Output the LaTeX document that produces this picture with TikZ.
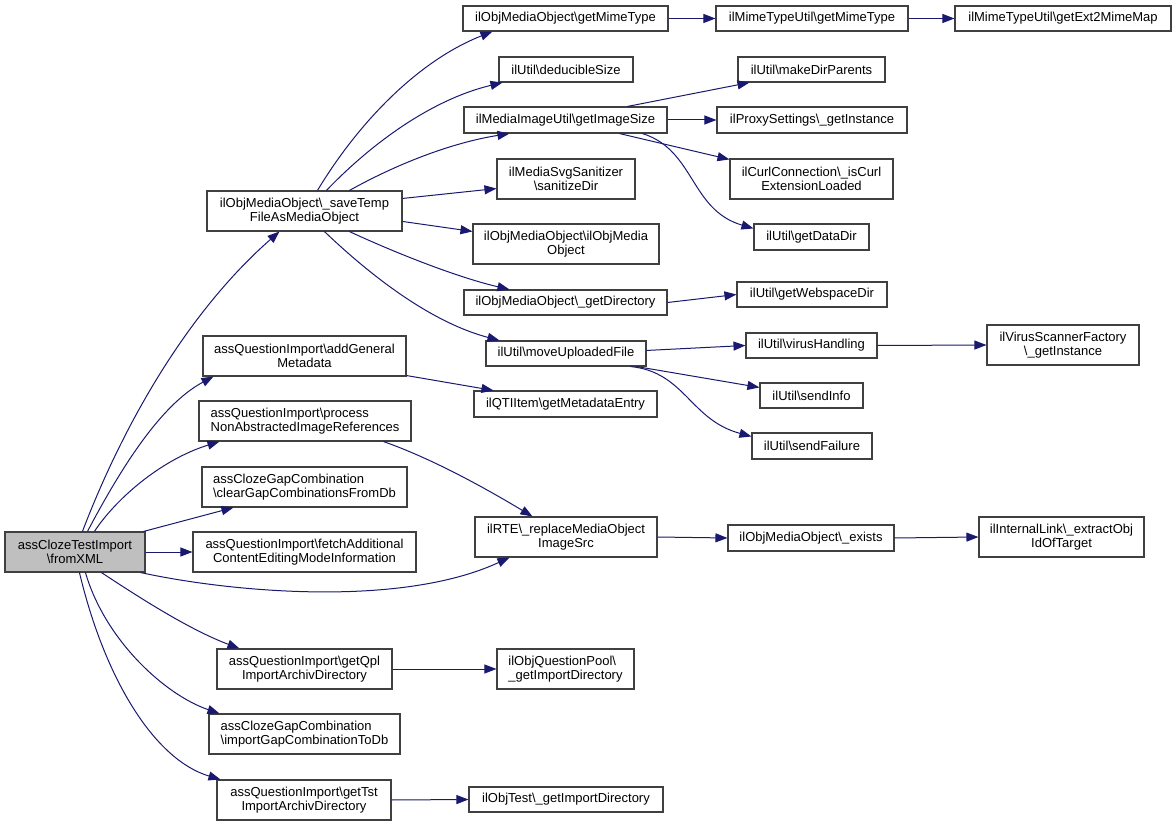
\documentclass[tikz,border=0pt]{standalone}
\usepackage{fontspec}
\setmainfont{Liberation Sans}
\usetikzlibrary{arrows.meta,calc}
\definecolor{edgeblue}{HTML}{191970}
\definecolor{boxgray}{HTML}{404040}
\definecolor{rootfill}{HTML}{BFBFBF}
\newcommand\bs{\textbackslash}
\newcommand\mkbox[7][]{\node[fnbox,#1,minimum width={(#5-#3)*1pt},minimum height={(#6-#4)*1pt}] (#2) at ({(#3+#5)/2},{(#4+#6)/2}) {#7};}
\begin{document}
\begin{tikzpicture}[x=1pt,y=-1pt,
  fnbox/.style={draw=boxgray, line width=1.1pt, fill=white, inner sep=0pt, align=center, font=\fontsize{13}{14.5}\selectfont},
  leftbox/.style={align=left},
  rootbox/.style={fill=rootfill},
  call/.style={draw=edgeblue, line width=1pt, -{Triangle[length=12pt,width=9pt]}}]
\fill[white] (0,0) rectangle (1176,826);
\useasboundingbox (0,0) rectangle (1176,826);
% column 1
\mkbox[rootbox]{root}{5}{532}{145}{572}{assClozeTestImport\\\bs fromXML}
% column 2
\mkbox{saveTemp}{207}{191}{402}{231}{ilObjMediaObject\bs\_saveTemp\\FileAsMediaObject}
\mkbox{addGeneral}{203}{336}{406}{376}{assQuestionImport\bs addGeneral\\Metadata}
\mkbox[leftbox]{process}{199}{401}{411}{441}{assQuestionImport\bs process\\NonAbstractedImageReferences}
\mkbox[leftbox]{clearGap}{202}{467}{407}{507}{assClozeGapCombination\\\bs clearGapCombinationsFromDb}
\mkbox{fetch}{193}{532}{416}{572}{assQuestionImport\bs fetchAdditional\\ContentEditingModeInformation}
\mkbox{getQpl}{217}{649}{392}{689}{assQuestionImport\bs getQpl\\ImportArchivDirectory}
\mkbox[leftbox]{importGap}{209}{714}{400}{754}{assClozeGapCombination\\\bs importGapCombinationToDb}
\mkbox{getTst}{217}{780}{391}{820}{assQuestionImport\bs getTst\\ImportArchivDirectory}
% column 3
\mkbox{getMime}{463}{6}{668}{31}{ilObjMediaObject\bs getMimeType}
\mkbox{deducible}{499}{57}{633}{82}{ilUtil\bs deducibleSize}
\mkbox{imgSize}{464}{107}{667}{133}{ilMediaImageUtil\bs getImageSize}
\mkbox{sanitize}{497}{159}{635}{199}{ilMediaSvgSanitizer\\\bs sanitizeDir}
\mkbox{mobCtor}{473}{224}{659}{264}{ilObjMediaObject\bs ilObjMedia\\Object}
\mkbox{getDir}{464}{290}{667}{315}{ilObjMediaObject\bs\_getDirectory}
\mkbox{moveUp}{486}{341}{646}{366}{ilUtil\bs moveUploadedFile}
\mkbox{metaEntry}{474}{391}{657}{417}{ilQTIItem\bs getMetadataEntry}
\mkbox{replace}{475}{517}{657}{557}{ilRTE\bs\_replaceMediaObject\\ImageSrc}
\mkbox[leftbox]{qpool}{497}{649}{634}{689}{ilObjQuestionPool\bs\\\_getImportDirectory}
\mkbox{objTest}{469}{787}{663}{812}{ilObjTest\bs\_getImportDirectory}
% column 4
\mkbox{mimeUtil}{716}{6}{908}{31}{ilMimeTypeUtil\bs getMimeType}
\mkbox{makeDir}{738}{57}{885}{82}{ilUtil\bs makeDirParents}
\mkbox{proxy}{717}{107}{907}{133}{ilProxySettings\bs\_getInstance}
\mkbox{curl}{730}{159}{893}{199}{ilCurlConnection\bs\_isCurl\\ExtensionLoaded}
\mkbox{dataDir}{754}{224}{869}{250}{ilUtil\bs getDataDir}
\mkbox{webspace}{737}{282}{887}{307}{ilUtil\bs getWebspaceDir}
\mkbox{virus}{746}{333}{877}{358}{ilUtil\bs virusHandling}
\mkbox{sendInfo}{760}{383}{863}{408}{ilUtil\bs sendInfo}
\mkbox{sendFail}{752}{433}{872}{459}{ilUtil\bs sendFailure}
\mkbox{exists}{728}{525}{894}{551}{ilObjMediaObject\bs\_exists}
% column 5
\mkbox{ext2}{955}{6}{1171}{31}{ilMimeTypeUtil\bs getExt2MimeMap}
\mkbox{scanner}{987}{325}{1139}{365}{ilVirusScannerFactory\\\bs\_getInstance}
\mkbox{intLink}{979}{517}{1144}{557}{ilInternalLink\bs\_extractObj\\IdOfTarget}
% edges from root
\draw[call] ($(root.north west)+(78,0)$) .. controls (125,420) and (190,310) .. ($(saveTemp.south west)+(73,0)$);
\draw[call] ($(root.north west)+(83,0)$) .. controls (120,470) and (160,405) .. ($(addGeneral.south west)+(11,0)$);
\draw[call] ($(root.north west)+(90,0)$) .. controls (115,500) and (160,460) .. ($(process.south west)+(21,0)$);
\draw[call] ($(root.north east)+(-2,0)$) -- ($(clearGap.south west)+(32,0)$);
\draw[call] (root.east) -- (fetch.west);
\draw[call] ($(root.south east)+(-5,0)$) .. controls (230,592) and (400,608) .. ($(replace.south west)+(35,0)$);
\draw[call] ($(root.south west)+(97,0)$) .. controls (140,598) and (190,630) .. ($(getQpl.north west)+(23,0)$);
\draw[call] ($(root.south west)+(81,0)$) .. controls (105,640) and (165,695) .. ($(importGap.north west)+(11,0)$);
\draw[call] ($(root.south west)+(75,0)$) .. controls (105,680) and (155,760) .. ($(getTst.north west)+(4,0)$);
% edges from saveTemp
\draw[call] ($(saveTemp.north west)+(111,0)$) .. controls (360,120) and (420,60) .. ($(getMime.south west)+(30,0)$);
\draw[call] ($(saveTemp.north west)+(120,0)$) .. controls (370,145) and (430,100) .. ($(deducible.south west)+(4,0)$);
\draw[call] ($(saveTemp.north west)+(143,0)$) .. controls (395,165) and (450,143) .. ($(imgSize.south west)+(46,0)$);
\draw[call] ($(saveTemp.north east)+(0,8)$) -- ($(sanitize.south west)+(0,-11)$);
\draw[call] ($(saveTemp.north east)+(0,31)$) -- ($(mobCtor.north west)+(0,8)$);
\draw[call] ($(saveTemp.south west)+(143,0)$) .. controls (400,255) and (460,278) .. ($(getDir.north west)+(46,0)$);
\draw[call] ($(saveTemp.south west)+(118,0)$) .. controls (370,275) and (430,322) .. ($(moveUp.north west)+(14,0)$);
% other edges
\draw[call] (getMime.east) -- (mimeUtil.west);
\draw[call] (mimeUtil.east) -- (ext2.west);
\draw[call] ($(imgSize.north west)+(164,0)$) -- ($(makeDir.south west)+(12,0)$);
\draw[call] (imgSize.east) -- (proxy.west);
\draw[call] ($(imgSize.south west)+(156,0)$) -- ($(curl.north west)+(0,1)$);
\draw[call] ($(imgSize.south west)+(179,0)$) .. controls (695,150) and (690,210) .. ($(dataDir.north west)+(0,5)$);
\draw[call] (getDir.east) -- (webspace.west);
\draw[call] ($(moveUp.north east)+(0,10)$) -- (virus.west);
\draw[call] ($(moveUp.south east)+(-10,0)$) -- ($(sendInfo.north west)+(0,5)$);
\draw[call] ($(moveUp.south east)+(-16,0)$) .. controls (685,372) and (690,420) .. ($(sendFail.north west)+(0,4)$);
\draw[call] (virus.east) -- (scanner.west);
\draw[call] ($(addGeneral.south east)+(0,-1)$) -- ($(metaEntry.north west)+(20,0)$);
\draw[call] ($(process.south east)+(-28,0)$) .. controls (430,458) and (480,485) .. ($(replace.north west)+(58,0)$);
\draw[call] (replace.east) -- (exists.west);
\draw[call] (exists.east) -- (intLink.west);
\draw[call] (getQpl.east) -- (qpool.west);
\draw[call] (getTst.east) -- (objTest.west);
\end{tikzpicture}
\end{document}
